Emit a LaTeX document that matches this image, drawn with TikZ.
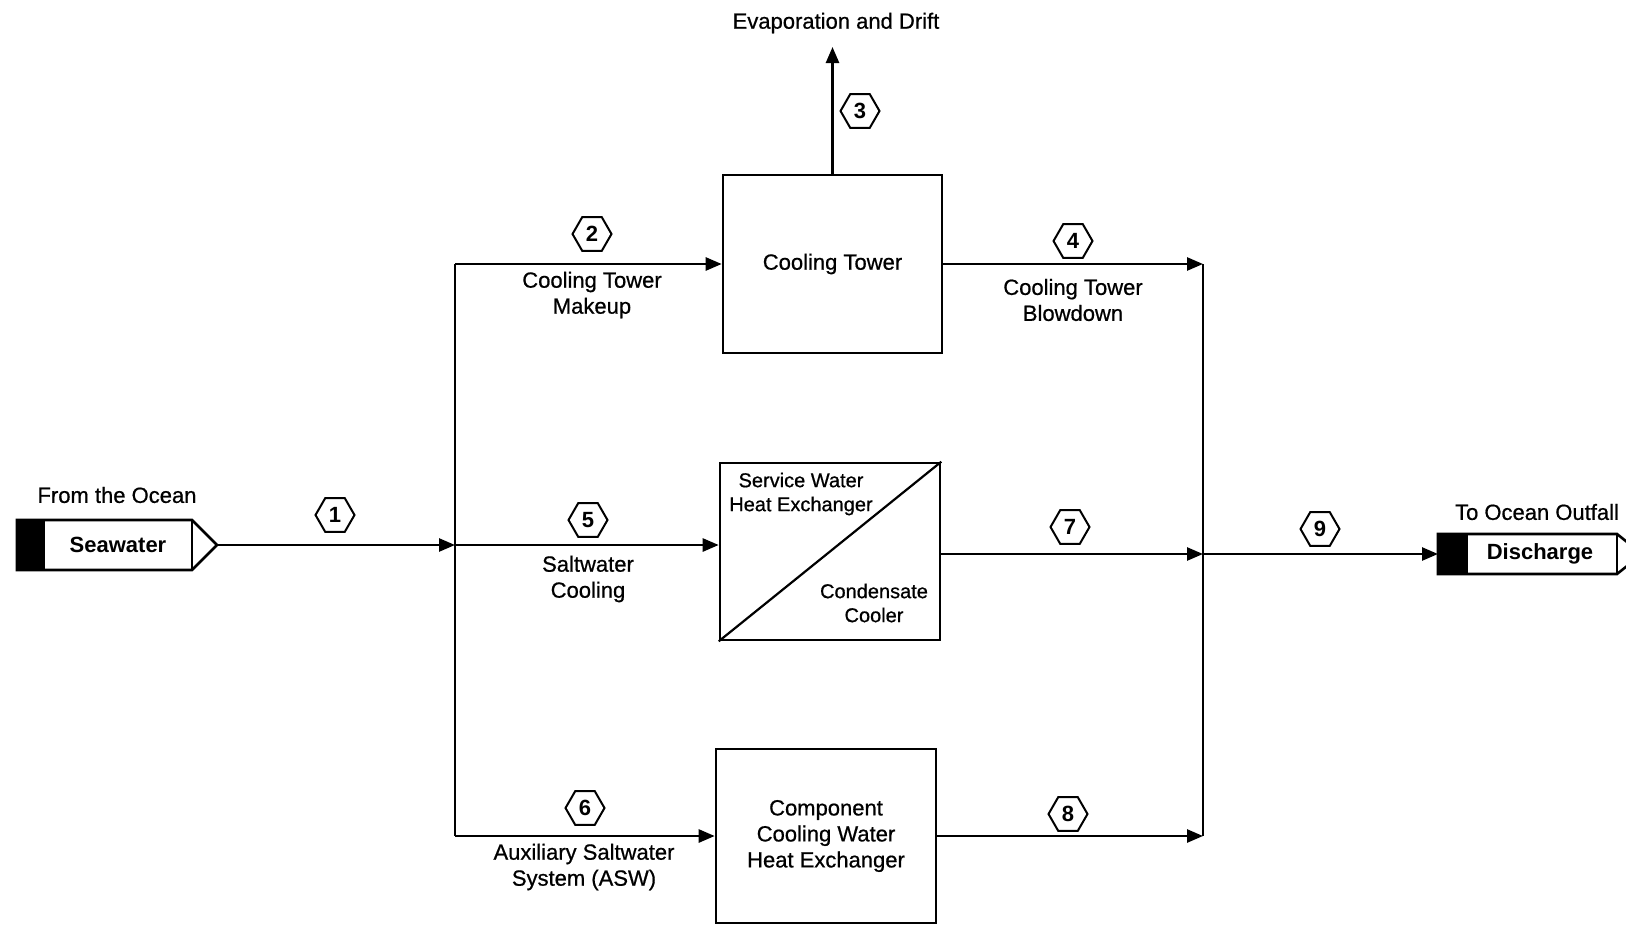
\documentclass[tikz,border=0pt]{standalone}
\usepackage{fontspec}
\setmainfont{Liberation Sans}
\newfontfamily\heavy[FakeBold=0.7]{Liberation Sans}
\usetikzlibrary{shapes.geometric,arrows.meta}
\begin{document}
\begin{tikzpicture}[x=0.5pt,y=-0.5pt,
  ln/.style={line width=1.3pt},
  flow/.style={line width=1.3pt,-{Triangle[length=8pt,width=6.5pt]}},
  box/.style={draw,line width=1.3pt,inner sep=0pt,align=center,font=\heavy\fontsize{11}{13}\selectfont},
  hex/.style={draw,regular polygon,regular polygon sides=6,minimum size=19.5pt,inner sep=0pt,line width=1pt,font=\bfseries\fontsize{11}{13}\selectfont},
  lbl/.style={align=center,inner sep=0pt,font=\heavy\fontsize{11}{13}\selectfont},
  small/.style={align=center,inner sep=0pt,font=\heavy\fontsize{10}{12}\selectfont},
  tag/.style={inner sep=0pt,font=\bfseries\fontsize{11}{13}\selectfont}]
\useasboundingbox (0,0) rectangle (1626,926);

% boxes
\node[box,minimum width=109.5pt,minimum height=89pt] (ct) at (832.5,264) {Cooling Tower};
\node[box,minimum width=110pt,minimum height=88.5pt] (sw) at (830,551.5) {};
\node[box,minimum width=110pt,minimum height=87pt] (ccw) at (826,836) {Component\\Cooling Water\\Heat Exchanger};
\draw[line width=1.1pt] (sw.south west) -- (sw.north east);
\node[small] (swt) at (801,494) {Service Water\\Heat Exchanger};
\node[small] (cct) at (874,603) {Condensate\\Cooler};

% seawater tag
\fill (17,520) rectangle (45,570);
\draw[ln,line join=miter] (17,520) -- (192,520) -- (217,545) -- (192,570) -- (17,570) -- cycle;
\draw[ln] (192,520) -- (192,570);
\coordinate (seatip) at (217,545);
\node[tag] (sea) at (118,545) {Seawater};
\node[lbl] (from) at (117,495) {From the Ocean};

% discharge tag
\fill (1438,534) rectangle (1468,574);
\draw[ln,line join=miter] (1438,534) -- (1617,534) -- (1642,554) -- (1617,574) -- (1438,574) -- cycle;
\draw[ln] (1617,534) -- (1617,574);
\coordinate (distip) at (1438,554);
\node[tag] (dis) at (1540,554) {Discharge};
\node[lbl] (to) at (1537,512) {To Ocean Outfall};

% buses
\coordinate (L2) at (455,264);
\coordinate (L1) at (455,545);
\coordinate (L6) at (455,836);
\coordinate (R4) at (1203,264);
\coordinate (R7) at (1203,554);
\coordinate (R8) at (1203,836);
\draw[ln] (L2) -- (L6);
\draw[ln] (R4) -- (R8);

% flows
\draw[flow] (seatip) -- (L1);
\draw[flow] (L2) -- (ct.west);
\draw[flow] (L1) -- (sw.west |- L1);
\draw[flow] (L6) -- (ccw.west);
\draw[flow] (ct.east) -- (R4);
\draw[flow] (sw.east |- R7) -- (R7);
\draw[flow] (ccw.east) -- (R8);
\draw[flow] (R7) -- (distip);
\coordinate (evtip) at (832.5,47);
\draw[flow] (ct.north) -- (evtip);
\node[lbl] (evap) at (836,23) {Evaporation and Drift};

% hex labels
\node[hex] (h1) at (335,515) {1};
\node[hex] (h2) at (592,234) {2};
\node[hex] (h3) at (860,111) {3};
\node[hex] (h4) at (1073,241) {4};
\node[hex] (h5) at (588,520) {5};
\node[hex] (h6) at (585,808) {6};
\node[hex] (h7) at (1070,527) {7};
\node[hex] (h8) at (1068,814) {8};
\node[hex] (h9) at (1320,529) {9};

% flow labels
\node[lbl] (t2) at (592,295) {Cooling Tower\\Makeup};
\node[lbl] (t4) at (1073,300) {Cooling Tower\\Blowdown};
\node[lbl] (t5) at (588,579) {Saltwater\\Cooling};
\node[lbl] (t6) at (584,867) {Auxiliary Saltwater\\System (ASW)};
\end{tikzpicture}
\end{document}
